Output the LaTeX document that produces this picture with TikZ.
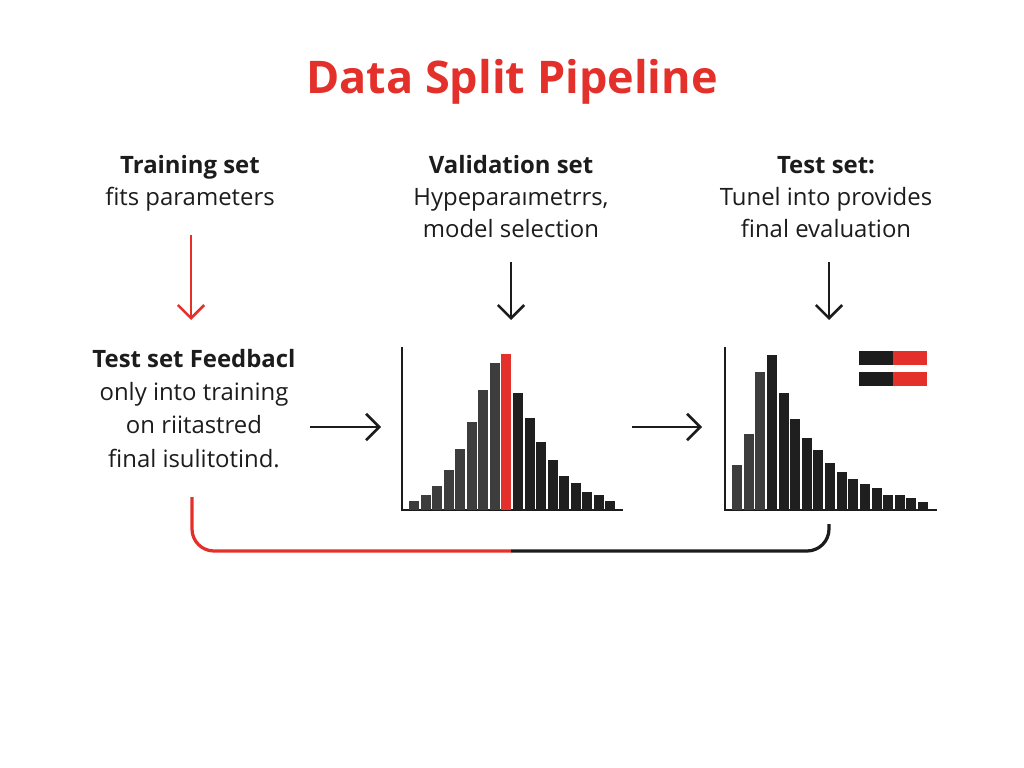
\documentclass[tikz,border=0pt]{standalone}
\usepackage{fontspec}
\setmainfont{Open Sans}
\usepackage{xcolor}
\usetikzlibrary{positioning,arrows.meta,calc}
\definecolor{splitred}{RGB}{228,48,42}
\definecolor{ink}{RGB}{28,28,28}

\begin{document}
\begin{tikzpicture}[
  x=0.025cm, y=-0.025cm,
  txt/.style={align=center, text=ink, inner sep=0pt, anchor=base,
    font=\fontsize{17}{22.75}\selectfont},
  arr/.style={-{Straight Barb[length=3.3mm, width=6.6mm]}, line width=1.8pt, ink},
  loop/.style={line width=2.3pt, rounded corners=5.5mm},
  axis/.style={line width=0.9pt, ink},
  barg/.style={fill=black!76},
  bark/.style={fill=black!88},
  barr/.style={fill=splitred}
]
  \useasboundingbox (0,0) rectangle (1024,768);
  \node[font=\fontsize{32}{34}\selectfont\bfseries, text=splitred, anchor=base] (title) at (512,94) {Data Split Pipeline};

  % the three sets (anchored at the baseline of the last line)
  \node[txt] (tr) at (190,205) {\textbf{Training set}\\fits parameters};
  \node[txt] (va) at (511,237) {\textbf{Validation set}\\Hypeparaımetrrs,\\model selection};
  \node[txt] (te) at (826,237) {\textbf{Test set:}\\Tunel into provides\\final evaluation};
  \node[txt, font=\fontsize{17}{23.5}\selectfont] (fb) at (194,467)
    {\textbf{Test set Feedbacl}\\only into training\\on riitastred\\final isulitotind.};

  % histograms
  \coordinate (h1) at (402,510);
  \coordinate (h2) at (725,510);
  \draw[axis] ($(h1)+(0,-163)$) -- (h1) -- ++(221,0);
  \draw[axis] ($(h2)+(0,-163)$) -- (h2) -- ++(212,0);
  \foreach \h/\c [count=\i from 0] in {9/g,15/g,24/g,40/g,61/g,88/g,120/g,147/g,156/r,
      117/k,92/k,68/k,50/k,34/k,27/k,18/k,15/k,9/k}
    \fill[bar\c] ($(h1)+({7+\i*11.55},0)$) rectangle ++(10,-\h);
  \foreach \h/\c [count=\i from 0] in {45/g,76/g,138/g,155/k,117/k,91/k,72/k,60/k,47/k,
      38/k,31/k,26/k,22/k,15/k,15/k,12/k,8/k}
    \fill[bar\c] ($(h2)+({7+\i*11.63},0)$) rectangle ++(10,-\h);

  % legend
  \fill[ink] (859,351) rectangle (893,365);
  \fill[splitred] (893,351) rectangle (927,365);
  \fill[ink] (859,372) rectangle (893,386);
  \fill[splitred] (893,372) rectangle (927,386);

  % connectors
  \coordinate (trout) at (191,235);
  \coordinate (fbin) at (191,320);
  \coordinate (vaout) at (511,262);
  \coordinate (h1in) at (511,320);
  \coordinate (teout) at (829,262);
  \coordinate (h2in) at (829,320);
  \coordinate (fbout) at (310,427);
  \coordinate (h1left) at (381,427);
  \coordinate (h1out) at (632,427);
  \coordinate (h2left) at (702,427);
  \coordinate (back) at (192,497);
  \coordinate (mid) at (511,551);
  \coordinate (h2foot) at (829,524);
  \draw[arr, splitred] (trout) -- (fbin);
  \draw[arr] (vaout) -- (h1in);
  \draw[arr] (teout) -- (h2in);
  \draw[arr] (fbout) -- (h1left);
  \draw[arr] (h1out) -- (h2left);
  \draw[loop, splitred] (back) |- (mid);
  \draw[loop, ink] (mid) -| (h2foot);
\end{tikzpicture}
\end{document}
